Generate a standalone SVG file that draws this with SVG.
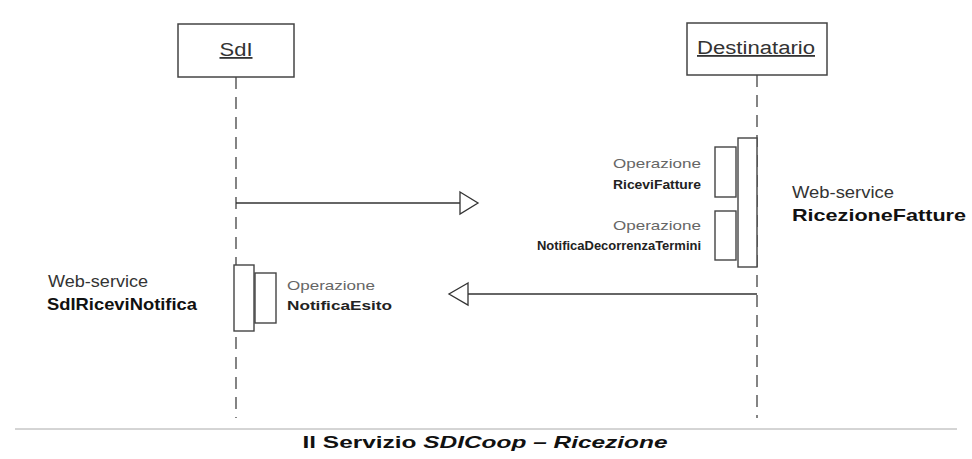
<svg xmlns="http://www.w3.org/2000/svg" width="972" height="459" viewBox="0 0 972 459">
<style>
.box{fill:#fff;stroke:#444;stroke-width:1.5}
.act{fill:#fff;stroke:#444;stroke-width:1.4}
.life{stroke:#333;stroke-width:1.2;stroke-dasharray:12 8;fill:none}
.msg{stroke:#333;stroke-width:1.3;fill:none}
.head{fill:#fff;stroke:#333;stroke-width:1.3}
.t{font-family:"Liberation Sans",Arial,sans-serif}
.lbl{font-size:18px;fill:#333;text-decoration:underline}
.op{font-size:13px;fill:#666}
.opb{font-size:13px;font-weight:bold;fill:#222}
.ws{font-size:16.5px;fill:#333}
.wsb{font-size:16.5px;font-weight:bold;fill:#111}
.cap{font-size:17px;font-weight:bold;fill:#111}
</style>
<rect width="972" height="459" fill="#fff"/>
<g id="connectors">
<line class="life" x1="236" y1="77" x2="236" y2="418"/>
<line class="life" x1="757" y1="75" x2="757" y2="418"/>
<line class="msg" x1="236" y1="203" x2="460" y2="203"/>
<polygon class="head" points="460,192 478,203 460,214"/>
<line class="msg" x1="757" y1="294" x2="468" y2="294"/>
<polygon class="head" points="468,283 449,294 468,305"/>
</g>
<g id="sdi">
<rect class="box" x="178" y="24" width="116" height="53"/>
<text class="t lbl" x="236" y="56" text-anchor="middle" textLength="33" lengthAdjust="spacingAndGlyphs">SdI</text>
</g>
<g id="destinatario">
<rect class="box" x="687" y="23" width="140" height="52"/>
<text class="t lbl" x="756" y="54" text-anchor="middle" textLength="118" lengthAdjust="spacingAndGlyphs">Destinatario</text>
</g>
<g id="ricezioneFatture">
<rect class="act" x="738" y="138" width="19" height="129"/>
<text class="t ws" x="792" y="198" textLength="102" lengthAdjust="spacingAndGlyphs">Web-service</text>
<text class="t wsb" x="792" y="221" textLength="174" lengthAdjust="spacingAndGlyphs">RicezioneFatture</text>
</g>
<g id="riceviFatture">
<rect class="act" x="715" y="147" width="21" height="50"/>
<text class="t op" x="701" y="168" text-anchor="end" textLength="88" lengthAdjust="spacingAndGlyphs">Operazione</text>
<text class="t opb" x="701" y="189" text-anchor="end" textLength="88" lengthAdjust="spacingAndGlyphs">RiceviFatture</text>
</g>
<g id="notificaDecorrenzaTermini">
<rect class="act" x="715" y="211" width="21" height="49"/>
<text class="t op" x="701" y="230" text-anchor="end" textLength="88" lengthAdjust="spacingAndGlyphs">Operazione</text>
<text class="t opb" x="701" y="250" text-anchor="end" textLength="164" lengthAdjust="spacingAndGlyphs">NotificaDecorrenzaTermini</text>
</g>
<g id="sdiRiceviNotifica">
<rect class="act" x="234" y="265" width="20" height="66"/>
<text class="t ws" x="48" y="287" textLength="100" lengthAdjust="spacingAndGlyphs">Web-service</text>
<text class="t wsb" x="47" y="310" textLength="150" lengthAdjust="spacingAndGlyphs">SdIRiceviNotifica</text>
</g>
<g id="notificaEsito">
<rect class="act" x="255" y="273" width="21" height="50"/>
<text class="t op" x="287" y="290" textLength="88" lengthAdjust="spacingAndGlyphs">Operazione</text>
<text class="t opb" x="287" y="310" textLength="105" lengthAdjust="spacingAndGlyphs">NotificaEsito</text>
</g>
<g id="caption">
<line x1="15" y1="429" x2="957" y2="429" stroke="#aaa" stroke-width="1"/>
<text class="t cap" x="485" y="448" text-anchor="middle" textLength="365" lengthAdjust="spacingAndGlyphs">Il Servizio <tspan font-style="italic">SDICoop – Ricezione</tspan></text>
</g>
</svg>
